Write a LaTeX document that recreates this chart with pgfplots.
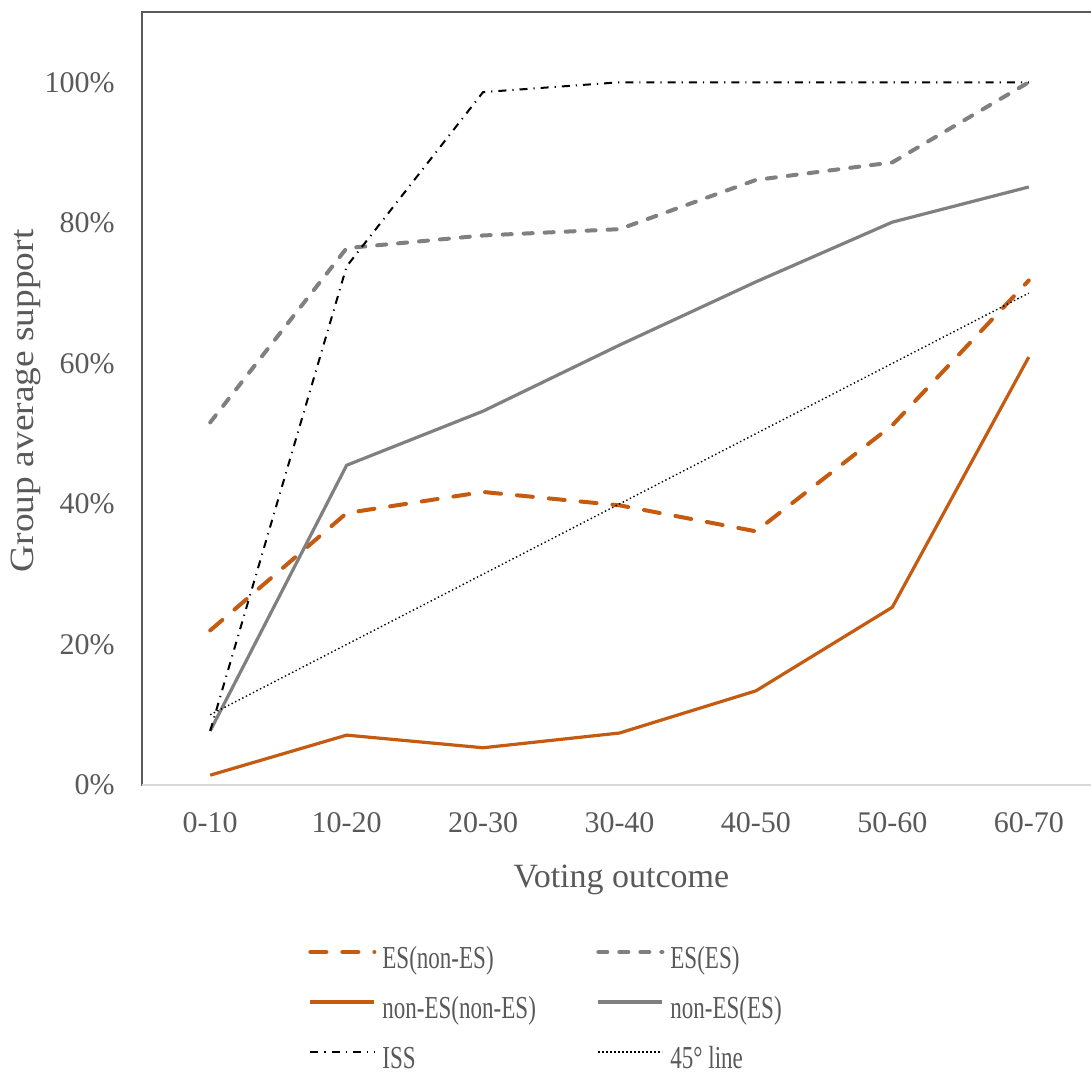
\documentclass[border=0pt]{standalone}
\usepackage{pgfplots}
\pgfplotsset{compat=1.18}
\usepackage{graphicx}
\usepackage{fontspec}
\setmainfont{Liberation Serif}
\definecolor{txt}{HTML}{595959}
\definecolor{orng}{HTML}{C55A11}
\definecolor{gry}{HTML}{808080}
\definecolor{axgray}{HTML}{D9D9D9}
\newcommand{\lgt}[1]{\scalebox{0.72}[1]{#1}}
\begin{document}
\begin{tikzpicture}
\begin{axis}[
  at={(0,0)}, anchor=south west,
  scale only axis,
  width=477.5pt, height=386.5pt,
  xmin=-0.5, xmax=6.5, ymin=0, ymax=110,
  xtick={0,1,2,3,4,5,6},
  xticklabels={0-10,10-20,20-30,30-40,40-50,50-60,60-70},
  ytick={0,20,40,60,80,100},
  yticklabels={0\%,20\%,40\%,60\%,80\%,100\%},
  major tick length=0pt,
  axis line style={draw=txt, line width=0.6pt},
  tick label style={font=\fontsize{15}{18}\selectfont, text=txt},
  /pgf/number format/assume math mode=true,
  xticklabel style={inner sep=0pt, anchor=north, yshift=-13.5pt},
  yticklabel style={inner sep=0pt, anchor=east, xshift=-13.5pt},
  xlabel={Voting outcome},
  ylabel={\scalebox{1.1}[1]{Group average support}},
  every axis x label/.style={at={(axis description cs:0.502,0)}, anchor=north, inner sep=0pt, yshift=-40pt, font=\fontsize{17}{20}\selectfont, text=txt},
  every axis y label/.style={at={(axis description cs:0,0.497)}, rotate=90, anchor=south, inner sep=0pt, yshift=50.5pt, font=\fontsize{17}{20}\selectfont, text=txt},
  legend columns=2,
  legend style={at={(axis description cs:0.1738,-0.2911)}, anchor=west, draw=none, fill=none, inner sep=0pt,
    font=\fontsize{16}{19}\selectfont, text=txt, row sep=11pt,
    nodes={inner sep=0pt, text height=11pt, text depth=3pt},
    /tikz/every odd column/.append style={column sep=3pt}},
  legend cell align=left,
  legend image code/.code={\draw[#1] (0pt,4pt) -- (32pt,4pt);},
]
\addplot[orng, line width=2pt, line cap=round, dash pattern=on 8pt off 8pt] coordinates {(0,22.0) (1,38.7) (2,41.7) (3,39.8) (4,36.1) (5,51.2) (6,71.8)};
\addlegendentry{\makebox[107pt][l]{\lgt{ES(non-ES)}}}
\addplot[gry, line width=2pt, line cap=round, dash pattern=on 4.5pt off 6pt] coordinates {(0,51.6) (1,76.4) (2,78.2) (3,79.1) (4,86.1) (5,88.6) (6,100)};
\addlegendentry{\lgt{ES(ES)}}
\addplot[orng, line width=1.6pt] coordinates {(0,1.4) (1,7.1) (2,5.3) (3,7.4) (4,13.4) (5,25.3) (6,60.9)};
\addlegendentry{\makebox[107pt][l]{\lgt{non-ES(non-ES)}}}
\addplot[gry, line width=1.6pt] coordinates {(0,7.7) (1,45.5) (2,53.2) (3,62.6) (4,71.6) (5,80.1) (6,85.1)};
\addlegendentry{\lgt{non-ES(ES)}}
\addplot[black, line width=1pt, dash pattern=on 4pt off 3pt on 0.6pt off 3pt] coordinates {(0,7.7) (1,73.8) (2,98.6) (3,100) (4,100) (5,100) (6,100)};
\addlegendentry{\makebox[107pt][l]{\lgt{ISS}}}
\addplot[black, line width=0.7pt, dash pattern=on 0.7pt off 1.3pt] coordinates {(0,10) (1,20) (2,30) (3,40) (4,50) (5,60) (6,70)};
\addlegendentry{\lgt{45° line}}
\draw[axgray, line width=1pt] (rel axis cs:0,0) -- (rel axis cs:1,0);
\end{axis}
\pgfresetboundingbox
\path[use as bounding box] (-71pt,-143.5pt) rectangle (474.5pt,392.5pt);
\end{tikzpicture}
\end{document}
